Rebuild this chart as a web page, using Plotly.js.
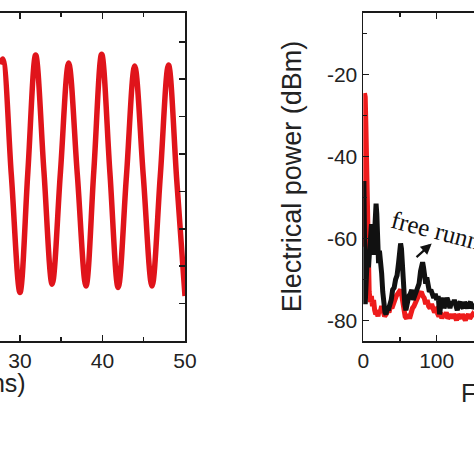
<!DOCTYPE html>
<html>
<head>
<meta charset="utf-8">
<script src="https://cdn.plot.ly/plotly-3.0.1.min.js"></script>
<style>html,body{margin:0;padding:0;background:#fff;}#chart{width:474px;height:474px;}</style>
</head>
<body>
<div id="chart"></div>
<script>
// Left panel: time trace (ns, arbitrary units)
const timeNs = [27.58, 27.9, 28.95, 30.0, 30.95, 31.9, 32.9, 33.9, 34.9, 35.9, 36.95, 38.0, 38.95, 39.9, 40.9, 41.9, 42.9, 43.9, 44.95, 46.0, 47.0, 48.0, 49.0, 50.0];
const intensity = [7.40, 7.54, 4.45, 1.30, 4.50, 7.65, 4.55, 1.52, 4.50, 7.43, 4.45, 1.47, 4.55, 7.67, 4.50, 1.43, 4.40, 7.35, 4.40, 1.47, 4.40, 7.38, 4.30, 1.20];

// Right panel: RF spectra (MHz, dBm)
const freqRed = [0, 0.8, 1.6, 2.6, 3.6, 4.6, 5.6, 6.8, 8, 9.5, 11, 12.5, 14, 15.5, 17, 18.5, 20, 21.5, 23, 25, 27, 29, 31, 33, 35, 37, 39, 41, 43, 45, 47, 49, 50.8, 52.5, 54, 55.5, 57, 59, 61, 63, 65, 67, 69, 71, 73, 75, 77, 79, 81, 83, 85, 87, 89, 91, 93, 95, 97, 99, 101, 103, 105, 107, 109, 111, 113, 115, 117, 119, 121, 123, 125, 127, 129, 131, 133, 135, 137, 139, 141, 143, 145, 147, 149, 151];
const powerRed = [-62, -30, -24.6, -25.5, -33, -45, -58, -68, -73, -75.5, -74, -76.5, -75, -77.5, -78.5, -78, -79, -77.5, -78, -76.5, -77.5, -79, -78.5, -77.5, -78, -76.5, -77, -75.5, -75, -74, -73.5, -73, -72.5, -74, -76, -78, -79, -79.5, -78.5, -79.5, -78, -77, -76.5, -75.5, -75, -74, -73.5, -73, -74, -74.5, -76, -75, -76.5, -77, -76, -77.5, -78, -77.5, -78.5, -79, -78, -79.5, -78.5, -79, -78, -79.5, -79, -78.5, -79.5, -78.5, -79, -80, -78.5, -79, -79.5, -78.5, -79, -80, -79, -78.5, -79.5, -79, -78.5, -79];

const freqBlack = [0, 0.8, 1.8, 2.6, 4, 5.5, 7, 8.5, 10, 11.2, 12.5, 13.8, 15, 16.2, 17.4, 18.4, 19.5, 20.8, 22, 23.5, 25, 26.5, 28, 29.5, 31, 32.5, 34, 36, 38, 40, 42, 44, 46, 48, 49.5, 50.8, 52, 53.5, 55, 56.5, 58, 60, 62, 64, 66, 68, 70, 72, 74, 76, 78, 79.5, 80.8, 82, 83.5, 85, 86.5, 88, 90, 92, 94, 96, 98, 100, 102, 104, 106, 108, 110, 112, 114, 116, 118, 120, 122, 124, 126, 128, 130, 132, 134, 136, 138, 140, 142, 144, 146, 148, 150, 152];
const powerBlack = [-76, -46, -62, -76, -70, -64, -67, -63, -58, -56.5, -61, -64, -60, -54, -51.5, -54, -62, -66, -63, -65, -68.5, -73, -77, -78, -78.5, -77, -77.5, -76.5, -75, -72.5, -72, -70, -69, -66, -63, -61.2, -62.5, -68, -73, -76, -77.5, -75.5, -74, -73.5, -72.5, -75, -74, -73, -72.5, -71, -68, -66.5, -65.8, -67, -70, -71, -69.5, -71.5, -73, -72.5, -73.5, -74.5, -73.5, -75, -74, -78.5, -75.5, -74.5, -77, -76, -74.5, -75.5, -77, -75.5, -76, -75, -76.5, -77.5, -76, -75.5, -76.5, -77, -75.5, -76, -77, -76, -75.5, -77, -76.5, -76];

const leftXTicks = [30, 40, 50];
const rightXTicks = [0, 100];
const rightYTicks = [-20, -40, -60, -80];

const AX = '#1a1a1a';
const SANS = 'Arial, "Liberation Sans", sans-serif';

const traces = [
  {x: timeNs, y: intensity, xaxis: 'x', yaxis: 'y', mode: 'lines',
   line: {color: '#e0141b', width: 5.5, shape: 'spline', smoothing: 1}, hoverinfo: 'skip'},
  {x: freqRed, y: powerRed, xaxis: 'x2', yaxis: 'y2', mode: 'lines',
   line: {color: '#ee1c1c', width: 5}, hoverinfo: 'skip'},
  {x: freqBlack, y: powerBlack, xaxis: 'x2', yaxis: 'y2', mode: 'lines',
   line: {color: '#111111', width: 5}, hoverinfo: 'skip'}
];

const layout = {
  width: 474, height: 474,
  margin: {l: 0, r: 0, t: 13, b: 133, pad: 0},
  paper_bgcolor: '#fff', plot_bgcolor: '#fff',
  showlegend: false,
  font: {family: SANS, size: 21, color: '#222'},
  xaxis: {
    domain: [0, 185/474], range: [27.58, 50], anchor: 'y',
    tickmode: 'array', tickvals: leftXTicks, ticktext: leftXTicks.map(String),
    ticks: 'inside', ticklen: 6, tickwidth: 1.5, tickcolor: AX,
    minor: {dtick: 5, tick0: 0, ticks: 'inside', ticklen: 4, tickwidth: 1.5, tickcolor: AX},
    showline: true, linecolor: AX, linewidth: 1.8, mirror: 'ticks',
    showgrid: false, zeroline: false, tickfont: {size: 21, family: SANS, color: '#222'}
  },
  yaxis: {
    domain: [0, 1], range: [0, 8.77], anchor: 'x', side: 'right',
    dtick: 1, tick0: 0, ticks: 'inside', ticklen: 6, tickwidth: 1.5, tickcolor: AX,
    showticklabels: false, showline: true, linecolor: AX, linewidth: 1.8, mirror: false,
    showgrid: false, zeroline: false
  },
  xaxis2: {
    domain: [363.3/474, 1], range: [0, 150.8], anchor: 'y2',
    tickmode: 'array', tickvals: rightXTicks, ticktext: rightXTicks.map(String),
    ticks: 'inside', ticklen: 6, tickwidth: 1.5, tickcolor: AX,
    minor: {dtick: 50, tick0: 0, ticks: 'inside', ticklen: 4, tickwidth: 1.5, tickcolor: AX},
    showline: true, linecolor: AX, linewidth: 1.8, mirror: 'ticks',
    showgrid: false, zeroline: false, tickfont: {size: 21, family: SANS, color: '#222'}
  },
  yaxis2: {
    domain: [0, 1], range: [-85, -5], anchor: 'x2',
    tickmode: 'array', tickvals: rightYTicks, ticktext: rightYTicks.map(String),
    ticks: 'inside', ticklen: 6, tickwidth: 1.5, tickcolor: AX,
    minor: {dtick: 10, tick0: 0, ticks: 'inside', ticklen: 4, tickwidth: 1.5, tickcolor: AX},
    showline: true, linecolor: AX, linewidth: 1.8, mirror: false,
    showgrid: false, zeroline: false, tickfont: {size: 21, family: SANS, color: '#222'}
  },
  annotations: [
    {text: 'Time (ns)', xref: 'paper', yref: 'paper', x: 28/474, y: -0.128,
     xanchor: 'right', yanchor: 'middle', showarrow: false,
     font: {family: SANS, size: 25, color: '#222'}},
    {text: 'Frequency (MHz)', xref: 'paper', yref: 'paper', x: 459/474, y: -0.1585,
     xanchor: 'left', yanchor: 'middle', showarrow: false,
     font: {family: SANS, size: 25, color: '#222'}},
    {text: 'Electrical power (dBm)', xref: 'paper', yref: 'paper', x: 291.7/474, y: 0.501,
     xanchor: 'center', yanchor: 'middle', textangle: -90, showarrow: false,
     font: {family: SANS, size: 27, color: '#222'}},
    {text: 'free running', xref: 'paper', yref: 'paper', x: 451.5/474, y: 0.325,
     xanchor: 'center', yanchor: 'middle', textangle: 14.5, showarrow: false,
     font: {family: '"Liberation Serif", "Times New Roman", serif', size: 25, color: '#111'}},
    {text: '', xref: 'x2', yref: 'y2', x: 93.2, y: -61.2, ax: -16.7, ay: 15,
     showarrow: true, arrowhead: 2, arrowsize: 1, arrowwidth: 2.2, arrowcolor: '#111', standoff: 0}
  ]
};

Plotly.newPlot('chart', traces, layout, {staticPlot: true, displayModeBar: false});
</script>
</body>
</html>
